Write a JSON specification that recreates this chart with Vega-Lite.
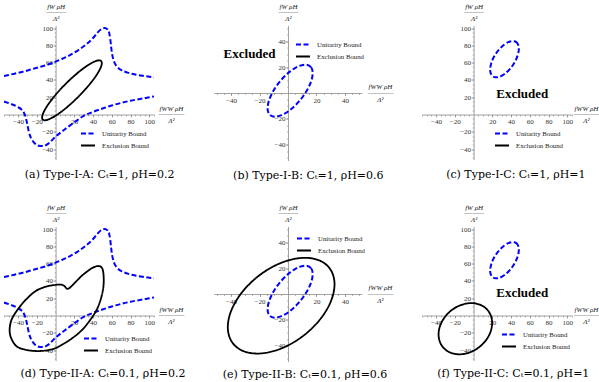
{
"$schema": "https://vega.github.io/schema/vega-lite/v6.json",
"padding": {"left": 1, "top": 1.5, "right": 0, "bottom": 0},
"config": {
  "view": {"stroke": null},
  "font": "Liberation Serif",
  "axis": {"grid": false, "domainColor": "#8c8c8c", "tickColor": "#8c8c8c", "labelColor": "#333333", "labelFont": "Liberation Serif", "labelFontSize": 7, "tickSize": 2.5, "labelPadding": 0.5, "labelFlush": false, "labelOverlap": false, "titleFont": "Liberation Serif", "titleFontSize": 7, "titleFontWeight": "normal", "titleFontStyle": "italic", "titleColor": "#222222", "titleAngle": 0, "titleAlign": "center", "titleBaseline": "middle", "titleLineHeight": 12.5, "domainWidth": 0.8, "tickWidth": 0.8, "zindex": 0},
  "legend": {"orient": "none", "symbolType": "stroke", "symbolSize": 196, "symbolStrokeWidth": 2, "labelFont": "Liberation Serif", "labelFontSize": 6.8, "labelColor": "#222222", "rowPadding": 0, "labelOffset": 6, "padding": 0},
  "title": {"orient": "bottom", "font": "DejaVu Serif", "fontSize": 11, "fontWeight": "normal", "offset": 9, "color": "#000000", "anchor": "middle"}
},
"datasets": {
  "hyp": [
    {"s":"Unitarity Bound","g":1,"i":0,"x":-55,"y":44.5},
    {"s":"Unitarity Bound","g":1,"i":1,"x":-45,"y":47},
    {"s":"Unitarity Bound","g":1,"i":2,"x":-35,"y":49.5},
    {"s":"Unitarity Bound","g":1,"i":3,"x":-25,"y":52.5},
    {"s":"Unitarity Bound","g":1,"i":4,"x":-15,"y":55.5},
    {"s":"Unitarity Bound","g":1,"i":5,"x":-5,"y":59},
    {"s":"Unitarity Bound","g":1,"i":6,"x":5,"y":63.5},
    {"s":"Unitarity Bound","g":1,"i":7,"x":15,"y":68.5},
    {"s":"Unitarity Bound","g":1,"i":8,"x":25,"y":75},
    {"s":"Unitarity Bound","g":1,"i":9,"x":33,"y":81.5},
    {"s":"Unitarity Bound","g":1,"i":10,"x":40,"y":88.5},
    {"s":"Unitarity Bound","g":1,"i":11,"x":45,"y":95},
    {"s":"Unitarity Bound","g":1,"i":12,"x":49,"y":99},
    {"s":"Unitarity Bound","g":1,"i":13,"x":52.5,"y":100},
    {"s":"Unitarity Bound","g":1,"i":14,"x":55.5,"y":98.5},
    {"s":"Unitarity Bound","g":1,"i":15,"x":57.5,"y":93},
    {"s":"Unitarity Bound","g":1,"i":16,"x":58.5,"y":86},
    {"s":"Unitarity Bound","g":1,"i":17,"x":59.3,"y":78},
    {"s":"Unitarity Bound","g":1,"i":18,"x":60.5,"y":69},
    {"s":"Unitarity Bound","g":1,"i":19,"x":62.5,"y":61},
    {"s":"Unitarity Bound","g":1,"i":20,"x":65.5,"y":55.5},
    {"s":"Unitarity Bound","g":1,"i":21,"x":70,"y":51.5},
    {"s":"Unitarity Bound","g":1,"i":22,"x":77,"y":48.5},
    {"s":"Unitarity Bound","g":1,"i":23,"x":85,"y":46.3},
    {"s":"Unitarity Bound","g":1,"i":24,"x":95,"y":44.5},
    {"s":"Unitarity Bound","g":1,"i":25,"x":105,"y":43},
    {"s":"Unitarity Bound","g":2,"i":0,"x":-55,"y":15},
    {"s":"Unitarity Bound","g":2,"i":1,"x":-47,"y":12},
    {"s":"Unitarity Bound","g":2,"i":2,"x":-40,"y":8.5},
    {"s":"Unitarity Bound","g":2,"i":3,"x":-36,"y":5.5},
    {"s":"Unitarity Bound","g":2,"i":4,"x":-33.5,"y":1.5},
    {"s":"Unitarity Bound","g":2,"i":5,"x":-31.5,"y":-4.5},
    {"s":"Unitarity Bound","g":2,"i":6,"x":-30,"y":-12},
    {"s":"Unitarity Bound","g":2,"i":7,"x":-28.5,"y":-20},
    {"s":"Unitarity Bound","g":2,"i":8,"x":-26,"y":-27.5},
    {"s":"Unitarity Bound","g":2,"i":9,"x":-22.5,"y":-33},
    {"s":"Unitarity Bound","g":2,"i":10,"x":-18,"y":-36},
    {"s":"Unitarity Bound","g":2,"i":11,"x":-13,"y":-36.5},
    {"s":"Unitarity Bound","g":2,"i":12,"x":-7,"y":-33},
    {"s":"Unitarity Bound","g":2,"i":13,"x":0,"y":-25.5},
    {"s":"Unitarity Bound","g":2,"i":14,"x":10,"y":-17},
    {"s":"Unitarity Bound","g":2,"i":15,"x":20,"y":-9},
    {"s":"Unitarity Bound","g":2,"i":16,"x":30,"y":-1.5},
    {"s":"Unitarity Bound","g":2,"i":17,"x":40,"y":3},
    {"s":"Unitarity Bound","g":2,"i":18,"x":50,"y":7},
    {"s":"Unitarity Bound","g":2,"i":19,"x":60,"y":10.5},
    {"s":"Unitarity Bound","g":2,"i":20,"x":70,"y":13.5},
    {"s":"Unitarity Bound","g":2,"i":21,"x":80,"y":16},
    {"s":"Unitarity Bound","g":2,"i":22,"x":90,"y":18},
    {"s":"Unitarity Bound","g":2,"i":23,"x":100,"y":20},
    {"s":"Unitarity Bound","g":2,"i":24,"x":105,"y":21}
  ],
  "exA": [
    {"s":"Exclusion Bound","i":0,"x":48.5,"y":62},
    {"s":"Exclusion Bound","i":1,"x":43.31,"y":61.99},
    {"s":"Exclusion Bound","i":2,"x":34.19,"y":56.81},
    {"s":"Exclusion Bound","i":3,"x":22.53,"y":47.24},
    {"s":"Exclusion Bound","i":4,"x":10.11,"y":34.74},
    {"s":"Exclusion Bound","i":5,"x":-1.19,"y":21.22},
    {"s":"Exclusion Bound","i":6,"x":-9.65,"y":8.73},
    {"s":"Exclusion Bound","i":7,"x":-13.97,"y":-0.83},
    {"s":"Exclusion Bound","i":8,"x":-13.5,"y":-6},
    {"s":"Exclusion Bound","i":9,"x":-8.31,"y":-5.99},
    {"s":"Exclusion Bound","i":10,"x":0.81,"y":-0.81},
    {"s":"Exclusion Bound","i":11,"x":12.47,"y":8.76},
    {"s":"Exclusion Bound","i":12,"x":24.89,"y":21.26},
    {"s":"Exclusion Bound","i":13,"x":36.19,"y":34.78},
    {"s":"Exclusion Bound","i":14,"x":44.65,"y":47.27},
    {"s":"Exclusion Bound","i":15,"x":48.97,"y":56.83}
  ],
  "ellB": [
    {"s":"Unitarity Bound","i":0,"x":17.35,"y":15.36},
    {"s":"Unitarity Bound","i":1,"x":16.14,"y":20.01},
    {"s":"Unitarity Bound","i":2,"x":12.71,"y":21.88},
    {"s":"Unitarity Bound","i":3,"x":7.57,"y":20.69},
    {"s":"Unitarity Bound","i":4,"x":1.5,"y":16.63},
    {"s":"Unitarity Bound","i":5,"x":-4.57,"y":10.31},
    {"s":"Unitarity Bound","i":6,"x":-9.71,"y":2.7},
    {"s":"Unitarity Bound","i":7,"x":-13.14,"y":-5.05},
    {"s":"Unitarity Bound","i":8,"x":-14.35,"y":-11.76},
    {"s":"Unitarity Bound","i":9,"x":-13.14,"y":-16.41},
    {"s":"Unitarity Bound","i":10,"x":-9.71,"y":-18.28},
    {"s":"Unitarity Bound","i":11,"x":-4.57,"y":-17.09},
    {"s":"Unitarity Bound","i":12,"x":1.5,"y":-13.03},
    {"s":"Unitarity Bound","i":13,"x":7.57,"y":-6.71},
    {"s":"Unitarity Bound","i":14,"x":12.71,"y":0.9},
    {"s":"Unitarity Bound","i":15,"x":16.14,"y":8.65}
  ],
  "ellC": [
    {"s":"Unitarity Bound","i":0,"x":48.3,"y":76.09},
    {"s":"Unitarity Bound","i":1,"x":47.14,"y":81.74},
    {"s":"Unitarity Bound","i":2,"x":43.82,"y":84.69},
    {"s":"Unitarity Bound","i":3,"x":38.86,"y":84.49},
    {"s":"Unitarity Bound","i":4,"x":33,"y":81.17},
    {"s":"Unitarity Bound","i":5,"x":27.14,"y":75.23},
    {"s":"Unitarity Bound","i":6,"x":22.18,"y":67.59},
    {"s":"Unitarity Bound","i":7,"x":18.86,"y":59.4},
    {"s":"Unitarity Bound","i":8,"x":17.7,"y":51.91},
    {"s":"Unitarity Bound","i":9,"x":18.86,"y":46.26},
    {"s":"Unitarity Bound","i":10,"x":22.18,"y":43.31},
    {"s":"Unitarity Bound","i":11,"x":27.14,"y":43.51},
    {"s":"Unitarity Bound","i":12,"x":33,"y":46.83},
    {"s":"Unitarity Bound","i":13,"x":38.86,"y":52.77},
    {"s":"Unitarity Bound","i":14,"x":43.82,"y":60.41},
    {"s":"Unitarity Bound","i":15,"x":47.14,"y":68.6}
  ],
  "exD": [
    {"s":"Exclusion Bound","i":0,"x":0,"y":35.5},
    {"s":"Exclusion Bound","i":1,"x":5,"y":35.8},
    {"s":"Exclusion Bound","i":2,"x":9,"y":34.5},
    {"s":"Exclusion Bound","i":3,"x":12.8,"y":30.8},
    {"s":"Exclusion Bound","i":4,"x":17,"y":34},
    {"s":"Exclusion Bound","i":5,"x":22,"y":39.5},
    {"s":"Exclusion Bound","i":6,"x":28,"y":46},
    {"s":"Exclusion Bound","i":7,"x":35,"y":52},
    {"s":"Exclusion Bound","i":8,"x":41,"y":56},
    {"s":"Exclusion Bound","i":9,"x":46.5,"y":57.2},
    {"s":"Exclusion Bound","i":10,"x":50,"y":54},
    {"s":"Exclusion Bound","i":11,"x":51.3,"y":45},
    {"s":"Exclusion Bound","i":12,"x":51,"y":33},
    {"s":"Exclusion Bound","i":13,"x":48.5,"y":20},
    {"s":"Exclusion Bound","i":14,"x":44,"y":7},
    {"s":"Exclusion Bound","i":15,"x":37,"y":-5},
    {"s":"Exclusion Bound","i":16,"x":28,"y":-17},
    {"s":"Exclusion Bound","i":17,"x":18,"y":-26},
    {"s":"Exclusion Bound","i":18,"x":8,"y":-33},
    {"s":"Exclusion Bound","i":19,"x":-2,"y":-38.5},
    {"s":"Exclusion Bound","i":20,"x":-16,"y":-41},
    {"s":"Exclusion Bound","i":21,"x":-30,"y":-40},
    {"s":"Exclusion Bound","i":22,"x":-41,"y":-36},
    {"s":"Exclusion Bound","i":23,"x":-47,"y":-27},
    {"s":"Exclusion Bound","i":24,"x":-49,"y":-17},
    {"s":"Exclusion Bound","i":25,"x":-47,"y":-5},
    {"s":"Exclusion Bound","i":26,"x":-41,"y":6},
    {"s":"Exclusion Bound","i":27,"x":-32,"y":18},
    {"s":"Exclusion Bound","i":28,"x":-21,"y":28.5},
    {"s":"Exclusion Bound","i":29,"x":-10,"y":33.5}
  ],
  "exE": [
    {"s":"Exclusion Bound","i":0,"x":32.7,"y":7.5},
    {"s":"Exclusion Bound","i":1,"x":29.85,"y":18.87},
    {"s":"Exclusion Bound","i":2,"x":21.72,"y":26},
    {"s":"Exclusion Bound","i":3,"x":9.55,"y":27.8},
    {"s":"Exclusion Bound","i":4,"x":-4.8,"y":24},
    {"s":"Exclusion Bound","i":5,"x":-19.15,"y":15.18},
    {"s":"Exclusion Bound","i":6,"x":-31.32,"y":2.66},
    {"s":"Exclusion Bound","i":7,"x":-39.45,"y":-11.61},
    {"s":"Exclusion Bound","i":8,"x":-42.3,"y":-25.5},
    {"s":"Exclusion Bound","i":9,"x":-39.45,"y":-36.87},
    {"s":"Exclusion Bound","i":10,"x":-31.32,"y":-44},
    {"s":"Exclusion Bound","i":11,"x":-19.15,"y":-45.8},
    {"s":"Exclusion Bound","i":12,"x":-4.8,"y":-42},
    {"s":"Exclusion Bound","i":13,"x":9.55,"y":-33.18},
    {"s":"Exclusion Bound","i":14,"x":21.72,"y":-20.66},
    {"s":"Exclusion Bound","i":15,"x":29.85,"y":-6.39}
  ],
  "exF": [
    {"s":"Exclusion Bound","i":0,"x":19.81,"y":-8.63},
    {"s":"Exclusion Bound","i":1,"x":17.64,"y":1.93},
    {"s":"Exclusion Bound","i":2,"x":11.44,"y":9.87},
    {"s":"Exclusion Bound","i":3,"x":2.17,"y":13.99},
    {"s":"Exclusion Bound","i":4,"x":-8.76,"y":13.66},
    {"s":"Exclusion Bound","i":5,"x":-19.69,"y":8.93},
    {"s":"Exclusion Bound","i":6,"x":-28.96,"y":0.53},
    {"s":"Exclusion Bound","i":7,"x":-35.16,"y":-10.27},
    {"s":"Exclusion Bound","i":8,"x":-37.33,"y":-21.83},
    {"s":"Exclusion Bound","i":9,"x":-35.16,"y":-32.39},
    {"s":"Exclusion Bound","i":10,"x":-28.96,"y":-40.33},
    {"s":"Exclusion Bound","i":11,"x":-19.69,"y":-44.45},
    {"s":"Exclusion Bound","i":12,"x":-8.76,"y":-44.12},
    {"s":"Exclusion Bound","i":13,"x":2.17,"y":-39.39},
    {"s":"Exclusion Bound","i":14,"x":11.44,"y":-30.99},
    {"s":"Exclusion Bound","i":15,"x":17.64,"y":-20.19}
  ]
},
"columns": 3,
"spacing": {"row": 66, "column": 60},
"bounds": "flush",
"resolve": {"scale": {"color": "independent", "strokeDash": "independent"}, "legend": {"color": "independent", "strokeDash": "independent"}},
"concat": [
   {
    "width": 150, "height": 134,
    "title": {"text": "(a) Type-I-A: Cₜ=1, ρH=0.2", "dx": 20.7},
    "resolve": {"axis": {"x": "independent", "y": "independent"}},
    "layer": [
     {"data": {"name": "hyp"},
      "mark": {"type": "line", "interpolate": "monotone", "strokeWidth": 2, "clip": true},
      "encoding": {
        "x": {"field": "x", "type": "quantitative", "scale": {"domain": [-55, 105], "nice": false, "zero": false},
              "axis": {"orient": "bottom", "values": [-40,-20,20,40,60,80,100], "offset": -45, "title": ["fWW ρH", "Λ²"], "titleX": 167, "titleY": -6.5}},
        "y": {"field": "y", "type": "quantitative", "scale": {"domain": [-52, 103], "nice": false, "zero": false},
              "axis": {"orient": "left", "values": [-40,-20,20,40,60,80,100], "offset": -51.6, "title": ["fW ρH", "Λ²"], "titleX": 0, "titleY": -19.5}},
        "detail": {"field": "g", "type": "nominal"},
        "order": {"field": "i", "type": "quantitative"},
        "color": {"field": "s", "type": "nominal", "title": null, "scale": {"domain": ["Unitarity Bound", "Exclusion Bound"], "range": ["#0000ff", "#000000"]}, "legend": {"legendX": 76, "legendY": 100}},
        "strokeDash": {"field": "s", "type": "nominal", "title": null, "scale": {"domain": ["Unitarity Bound", "Exclusion Bound"], "range": [[5, 2.5], [1, 0]]}, "legend": {"legendX": 76, "legendY": 100}}
      }},
     {"data": {"name": "exA"},
      "mark": {"type": "line", "interpolate": "cardinal-closed", "strokeWidth": 1.8, "clip": true},
      "encoding": {
        "x": {"field": "x", "type": "quantitative", "axis": null},
        "y": {"field": "y", "type": "quantitative", "axis": null},
        "order": {"field": "i", "type": "quantitative"},
        "color": {"field": "s", "type": "nominal", "title": null, "legend": {"legendX": 76, "legendY": 100}},
        "strokeDash": {"field": "s", "type": "nominal", "title": null, "legend": {"legendX": 76, "legendY": 100}}
      }},
     {"data": {"name": "hyp"},
      "mark": {"type": "point", "opacity": 0},
      "encoding": {
        "x": {"field": "x", "type": "quantitative", "axis": {"orient": "bottom", "values": [-55,-50,-45,-40,-35,-30,-25,-20,-15,-10,-5,5,10,15,20,25,30,35,40,45,50,55,60,65,70,75,80,85,90,95,100,105], "labels": false, "domain": false, "tickSize": 1.3, "offset": -45, "title": "─────────", "titleFontSize": 4, "titleFontStyle": "normal", "titleX": 167, "titleY": 0}},
        "y": {"field": "y", "type": "quantitative", "axis": {"orient": "left", "values": [-50,-45,-40,-35,-30,-25,-20,-15,-10,-5,5,10,15,20,25,30,35,40,45,50,55,60,65,70,75,80,85,90,95,100], "labels": false, "domain": false, "tickSize": 1.3, "offset": -51.6, "title": "───────", "titleFontSize": 4, "titleFontStyle": "normal", "titleX": 0, "titleY": -13.5}}
      }}
    ]
   },
   {
    "width": 148, "height": 135,
    "title": {"text": "(b) Type-I-B: Cₜ=1, ρH=0.6", "dx": 20.3},
    "resolve": {"axis": {"x": "independent", "y": "independent"}},
    "layer": [
     {"data": {"name": "ellB"},
      "mark": {"type": "line", "interpolate": "cardinal-closed", "strokeWidth": 2, "clip": true},
      "encoding": {
        "x": {"field": "x", "type": "quantitative", "scale": {"domain": [-52, 52], "nice": false, "zero": false},
              "axis": {"orient": "bottom", "values": [-40,-20,20,40], "offset": -67.5, "title": ["fWW ρH", "Λ²"], "titleX": 166, "titleY": -6.5}},
        "y": {"field": "y", "type": "quantitative", "scale": {"domain": [-52, 52], "nice": false, "zero": false},
              "axis": {"orient": "left", "values": [-40,-20,20,40], "offset": -74, "title": ["fW ρH", "Λ²"], "titleX": 0, "titleY": -19.5}},
        "order": {"field": "i", "type": "quantitative"},
        "color": {"field": "s", "type": "nominal", "title": null, "scale": {"domain": ["Unitarity Bound", "Exclusion Bound"], "range": ["#0000ff", "#000000"]}, "legend": {"legendX": 81, "legendY": 11}},
        "strokeDash": {"field": "s", "type": "nominal", "title": null, "scale": {"domain": ["Unitarity Bound", "Exclusion Bound"], "range": [[5, 2.5], [1, 0]]}, "legend": {"legendX": 81, "legendY": 11}}
      }},
     {"data": {"values": [{"x": -27, "y": 30, "t": "Excluded"}]},
      "mark": {"type": "text", "font": "Liberation Serif", "fontWeight": "bold", "fontSize": 13, "align": "center", "baseline": "middle", "color": "#000000"},
      "encoding": {
        "x": {"field": "x", "type": "quantitative", "axis": null},
        "y": {"field": "y", "type": "quantitative", "axis": null},
        "text": {"field": "t", "type": "nominal"}
      }},
     {"data": {"name": "ellB"},
      "mark": {"type": "point", "opacity": 0},
      "encoding": {
        "x": {"field": "x", "type": "quantitative", "axis": {"orient": "bottom", "values": [-50,-45,-40,-35,-30,-25,-20,-15,-10,-5,5,10,15,20,25,30,35,40,45,50], "labels": false, "domain": false, "tickSize": 1.3, "offset": -67.5, "title": "─────────", "titleFontSize": 4, "titleFontStyle": "normal", "titleX": 166, "titleY": 0}},
        "y": {"field": "y", "type": "quantitative", "axis": {"orient": "left", "values": [-50,-45,-40,-35,-30,-25,-20,-15,-10,-5,5,10,15,20,25,30,35,40,45,50], "labels": false, "domain": false, "tickSize": 1.3, "offset": -74, "title": "───────", "titleFontSize": 4, "titleFontStyle": "normal", "titleX": 0, "titleY": -13.5}}
      }}
    ]
   },
   {
    "width": 150, "height": 134,
    "title": {"text": "(c) Type-I-C: Cₜ=1, ρH=1", "dx": 18.8},
    "resolve": {"axis": {"x": "independent", "y": "independent"}},
    "layer": [
     {"data": {"name": "ellC"},
      "mark": {"type": "line", "interpolate": "cardinal-closed", "strokeWidth": 2, "clip": true},
      "encoding": {
        "x": {"field": "x", "type": "quantitative", "scale": {"domain": [-55, 105], "nice": false, "zero": false},
              "axis": {"orient": "bottom", "values": [-40,-20,20,40,60,80,100], "offset": -45, "title": ["fWW ρH", "Λ²"], "titleX": 164, "titleY": -6.5}},
        "y": {"field": "y", "type": "quantitative", "scale": {"domain": [-52, 103], "nice": false, "zero": false},
              "axis": {"orient": "left", "values": [-40,-20,20,40,60,80,100], "offset": -51.6, "title": ["fW ρH", "Λ²"], "titleX": 0, "titleY": -19.5}},
        "order": {"field": "i", "type": "quantitative"},
        "color": {"field": "s", "type": "nominal", "title": null, "scale": {"domain": ["Unitarity Bound", "Exclusion Bound"], "range": ["#0000ff", "#000000"]}, "legend": {"legendX": 72, "legendY": 100}},
        "strokeDash": {"field": "s", "type": "nominal", "title": null, "scale": {"domain": ["Unitarity Bound", "Exclusion Bound"], "range": [[5, 2.5], [1, 0]]}, "legend": {"legendX": 72, "legendY": 100}}
      }},
     {"data": {"values": [{"x": 52, "y": 24, "t": "Excluded"}]},
      "mark": {"type": "text", "font": "Liberation Serif", "fontWeight": "bold", "fontSize": 13, "align": "center", "baseline": "middle", "color": "#000000"},
      "encoding": {
        "x": {"field": "x", "type": "quantitative", "axis": null},
        "y": {"field": "y", "type": "quantitative", "axis": null},
        "text": {"field": "t", "type": "nominal"}
      }},
     {"data": {"name": "ellC"},
      "mark": {"type": "point", "opacity": 0},
      "encoding": {
        "x": {"field": "x", "type": "quantitative", "axis": {"orient": "bottom", "values": [-55,-50,-45,-40,-35,-30,-25,-20,-15,-10,-5,5,10,15,20,25,30,35,40,45,50,55,60,65,70,75,80,85,90,95,100,105], "labels": false, "domain": false, "tickSize": 1.3, "offset": -45, "title": "─────────", "titleFontSize": 4, "titleFontStyle": "normal", "titleX": 164, "titleY": 0}},
        "y": {"field": "y", "type": "quantitative", "axis": {"orient": "left", "values": [-50,-45,-40,-35,-30,-25,-20,-15,-10,-5,5,10,15,20,25,30,35,40,45,50,55,60,65,70,75,80,85,90,95,100], "labels": false, "domain": false, "tickSize": 1.3, "offset": -51.6, "title": "───────", "titleFontSize": 4, "titleFontStyle": "normal", "titleX": 0, "titleY": -13.5}}
      }}
    ]
   },
   {
    "width": 150, "height": 134,
    "title": {"text": "(d) Type-II-A: Cₜ=0.1, ρH=0.2", "dx": 24, "offset": 7},
    "resolve": {"axis": {"x": "independent", "y": "independent"}},
    "layer": [
     {"data": {"name": "hyp"},
      "mark": {"type": "line", "interpolate": "monotone", "strokeWidth": 2, "clip": true},
      "encoding": {
        "x": {"field": "x", "type": "quantitative", "scale": {"domain": [-55, 105], "nice": false, "zero": false},
              "axis": {"orient": "bottom", "values": [-40,-20,20,40,60,80,100], "offset": -45, "title": ["fWW ρH", "Λ²"], "titleX": 167, "titleY": -6.5}},
        "y": {"field": "y", "type": "quantitative", "scale": {"domain": [-52, 103], "nice": false, "zero": false},
              "axis": {"orient": "left", "values": [-40,-20,20,40,60,80,100], "offset": -51.6, "title": ["fW ρH", "Λ²"], "titleX": 0, "titleY": -19.5}},
        "detail": {"field": "g", "type": "nominal"},
        "order": {"field": "i", "type": "quantitative"},
        "color": {"field": "s", "type": "nominal", "title": null, "scale": {"domain": ["Unitarity Bound", "Exclusion Bound"], "range": ["#0000ff", "#000000"]}, "legend": {"legendX": 79, "legendY": 104}},
        "strokeDash": {"field": "s", "type": "nominal", "title": null, "scale": {"domain": ["Unitarity Bound", "Exclusion Bound"], "range": [[5, 2.5], [1, 0]]}, "legend": {"legendX": 79, "legendY": 104}}
      }},
     {"data": {"name": "exD"},
      "mark": {"type": "line", "interpolate": "cardinal-closed", "strokeWidth": 1.8, "clip": true},
      "encoding": {
        "x": {"field": "x", "type": "quantitative", "axis": null},
        "y": {"field": "y", "type": "quantitative", "axis": null},
        "order": {"field": "i", "type": "quantitative"},
        "color": {"field": "s", "type": "nominal", "title": null, "legend": {"legendX": 79, "legendY": 104}},
        "strokeDash": {"field": "s", "type": "nominal", "title": null, "legend": {"legendX": 79, "legendY": 104}}
      }},
     {"data": {"name": "hyp"},
      "mark": {"type": "point", "opacity": 0},
      "encoding": {
        "x": {"field": "x", "type": "quantitative", "axis": {"orient": "bottom", "values": [-55,-50,-45,-40,-35,-30,-25,-20,-15,-10,-5,5,10,15,20,25,30,35,40,45,50,55,60,65,70,75,80,85,90,95,100,105], "labels": false, "domain": false, "tickSize": 1.3, "offset": -45, "title": "─────────", "titleFontSize": 4, "titleFontStyle": "normal", "titleX": 167, "titleY": 0}},
        "y": {"field": "y", "type": "quantitative", "axis": {"orient": "left", "values": [-50,-45,-40,-35,-30,-25,-20,-15,-10,-5,5,10,15,20,25,30,35,40,45,50,55,60,65,70,75,80,85,90,95,100], "labels": false, "domain": false, "tickSize": 1.3, "offset": -51.6, "title": "───────", "titleFontSize": 4, "titleFontStyle": "normal", "titleX": 0, "titleY": -13.5}}
      }}
    ]
   },
   {
    "width": 148, "height": 135,
    "title": {"text": "(e) Type-II-B: Cₜ=0.1, ρH=0.6", "dx": 17, "offset": 7},
    "resolve": {"axis": {"x": "independent", "y": "independent"}},
    "layer": [
     {"data": {"name": "ellB"},
      "mark": {"type": "line", "interpolate": "cardinal-closed", "strokeWidth": 2, "clip": true},
      "encoding": {
        "x": {"field": "x", "type": "quantitative", "scale": {"domain": [-52, 52], "nice": false, "zero": false},
              "axis": {"orient": "bottom", "values": [-40,-20,20,40], "offset": -67.5, "title": ["fWW ρH", "Λ²"], "titleX": 166, "titleY": -6.5}},
        "y": {"field": "y", "type": "quantitative", "scale": {"domain": [-52, 52], "nice": false, "zero": false},
              "axis": {"orient": "left", "values": [-40,-20,20,40], "offset": -74, "title": ["fW ρH", "Λ²"], "titleX": 0, "titleY": -19.5}},
        "order": {"field": "i", "type": "quantitative"},
        "color": {"field": "s", "type": "nominal", "title": null, "scale": {"domain": ["Unitarity Bound", "Exclusion Bound"], "range": ["#0000ff", "#000000"]}, "legend": {"legendX": 82, "legendY": 4}},
        "strokeDash": {"field": "s", "type": "nominal", "title": null, "scale": {"domain": ["Unitarity Bound", "Exclusion Bound"], "range": [[5, 2.5], [1, 0]]}, "legend": {"legendX": 82, "legendY": 4}}
      }},
     {"data": {"name": "exE"},
      "mark": {"type": "line", "interpolate": "cardinal-closed", "strokeWidth": 1.8, "clip": true},
      "encoding": {
        "x": {"field": "x", "type": "quantitative", "axis": null},
        "y": {"field": "y", "type": "quantitative", "axis": null},
        "order": {"field": "i", "type": "quantitative"},
        "color": {"field": "s", "type": "nominal", "title": null, "legend": {"legendX": 82, "legendY": 4}},
        "strokeDash": {"field": "s", "type": "nominal", "title": null, "legend": {"legendX": 82, "legendY": 4}}
      }},
     {"data": {"name": "ellB"},
      "mark": {"type": "point", "opacity": 0},
      "encoding": {
        "x": {"field": "x", "type": "quantitative", "axis": {"orient": "bottom", "values": [-50,-45,-40,-35,-30,-25,-20,-15,-10,-5,5,10,15,20,25,30,35,40,45,50], "labels": false, "domain": false, "tickSize": 1.3, "offset": -67.5, "title": "─────────", "titleFontSize": 4, "titleFontStyle": "normal", "titleX": 166, "titleY": 0}},
        "y": {"field": "y", "type": "quantitative", "axis": {"orient": "left", "values": [-50,-45,-40,-35,-30,-25,-20,-15,-10,-5,5,10,15,20,25,30,35,40,45,50], "labels": false, "domain": false, "tickSize": 1.3, "offset": -74, "title": "───────", "titleFontSize": 4, "titleFontStyle": "normal", "titleX": 0, "titleY": -13.5}}
      }}
    ]
   },
   {
    "width": 150, "height": 134,
    "title": {"text": "(f) Type-II-C: Cₜ=0.1, ρH=1", "dx": 16.3, "offset": 7},
    "resolve": {"axis": {"x": "independent", "y": "independent"}},
    "layer": [
     {"data": {"name": "ellC"},
      "mark": {"type": "line", "interpolate": "cardinal-closed", "strokeWidth": 2, "clip": true},
      "encoding": {
        "x": {"field": "x", "type": "quantitative", "scale": {"domain": [-55, 105], "nice": false, "zero": false},
              "axis": {"orient": "bottom", "values": [-40,-20,20,40,60,80,100], "offset": -45, "title": ["fWW ρH", "Λ²"], "titleX": 164, "titleY": -6.5}},
        "y": {"field": "y", "type": "quantitative", "scale": {"domain": [-52, 103], "nice": false, "zero": false},
              "axis": {"orient": "left", "values": [-40,-20,20,40,60,80,100], "offset": -51.6, "title": ["fW ρH", "Λ²"], "titleX": 0, "titleY": -19.5}},
        "order": {"field": "i", "type": "quantitative"},
        "color": {"field": "s", "type": "nominal", "title": null, "scale": {"domain": ["Unitarity Bound", "Exclusion Bound"], "range": ["#0000ff", "#000000"]}, "legend": {"legendX": 79, "legendY": 100}},
        "strokeDash": {"field": "s", "type": "nominal", "title": null, "scale": {"domain": ["Unitarity Bound", "Exclusion Bound"], "range": [[5, 2.5], [1, 0]]}, "legend": {"legendX": 79, "legendY": 100}}
      }},
     {"data": {"name": "exF"},
      "mark": {"type": "line", "interpolate": "cardinal-closed", "strokeWidth": 1.8, "clip": true},
      "encoding": {
        "x": {"field": "x", "type": "quantitative", "axis": null},
        "y": {"field": "y", "type": "quantitative", "axis": null},
        "order": {"field": "i", "type": "quantitative"},
        "color": {"field": "s", "type": "nominal", "title": null, "legend": {"legendX": 79, "legendY": 100}},
        "strokeDash": {"field": "s", "type": "nominal", "title": null, "legend": {"legendX": 79, "legendY": 100}}
      }},
     {"data": {"values": [{"x": 52, "y": 26, "t": "Excluded"}]},
      "mark": {"type": "text", "font": "Liberation Serif", "fontWeight": "bold", "fontSize": 13, "align": "center", "baseline": "middle", "color": "#000000"},
      "encoding": {
        "x": {"field": "x", "type": "quantitative", "axis": null},
        "y": {"field": "y", "type": "quantitative", "axis": null},
        "text": {"field": "t", "type": "nominal"}
      }},
     {"data": {"name": "ellC"},
      "mark": {"type": "point", "opacity": 0},
      "encoding": {
        "x": {"field": "x", "type": "quantitative", "axis": {"orient": "bottom", "values": [-55,-50,-45,-40,-35,-30,-25,-20,-15,-10,-5,5,10,15,20,25,30,35,40,45,50,55,60,65,70,75,80,85,90,95,100,105], "labels": false, "domain": false, "tickSize": 1.3, "offset": -45, "title": "─────────", "titleFontSize": 4, "titleFontStyle": "normal", "titleX": 164, "titleY": 0}},
        "y": {"field": "y", "type": "quantitative", "axis": {"orient": "left", "values": [-50,-45,-40,-35,-30,-25,-20,-15,-10,-5,5,10,15,20,25,30,35,40,45,50,55,60,65,70,75,80,85,90,95,100], "labels": false, "domain": false, "tickSize": 1.3, "offset": -51.6, "title": "───────", "titleFontSize": 4, "titleFontStyle": "normal", "titleX": 0, "titleY": -13.5}}
      }}
    ]
   }
]
}
